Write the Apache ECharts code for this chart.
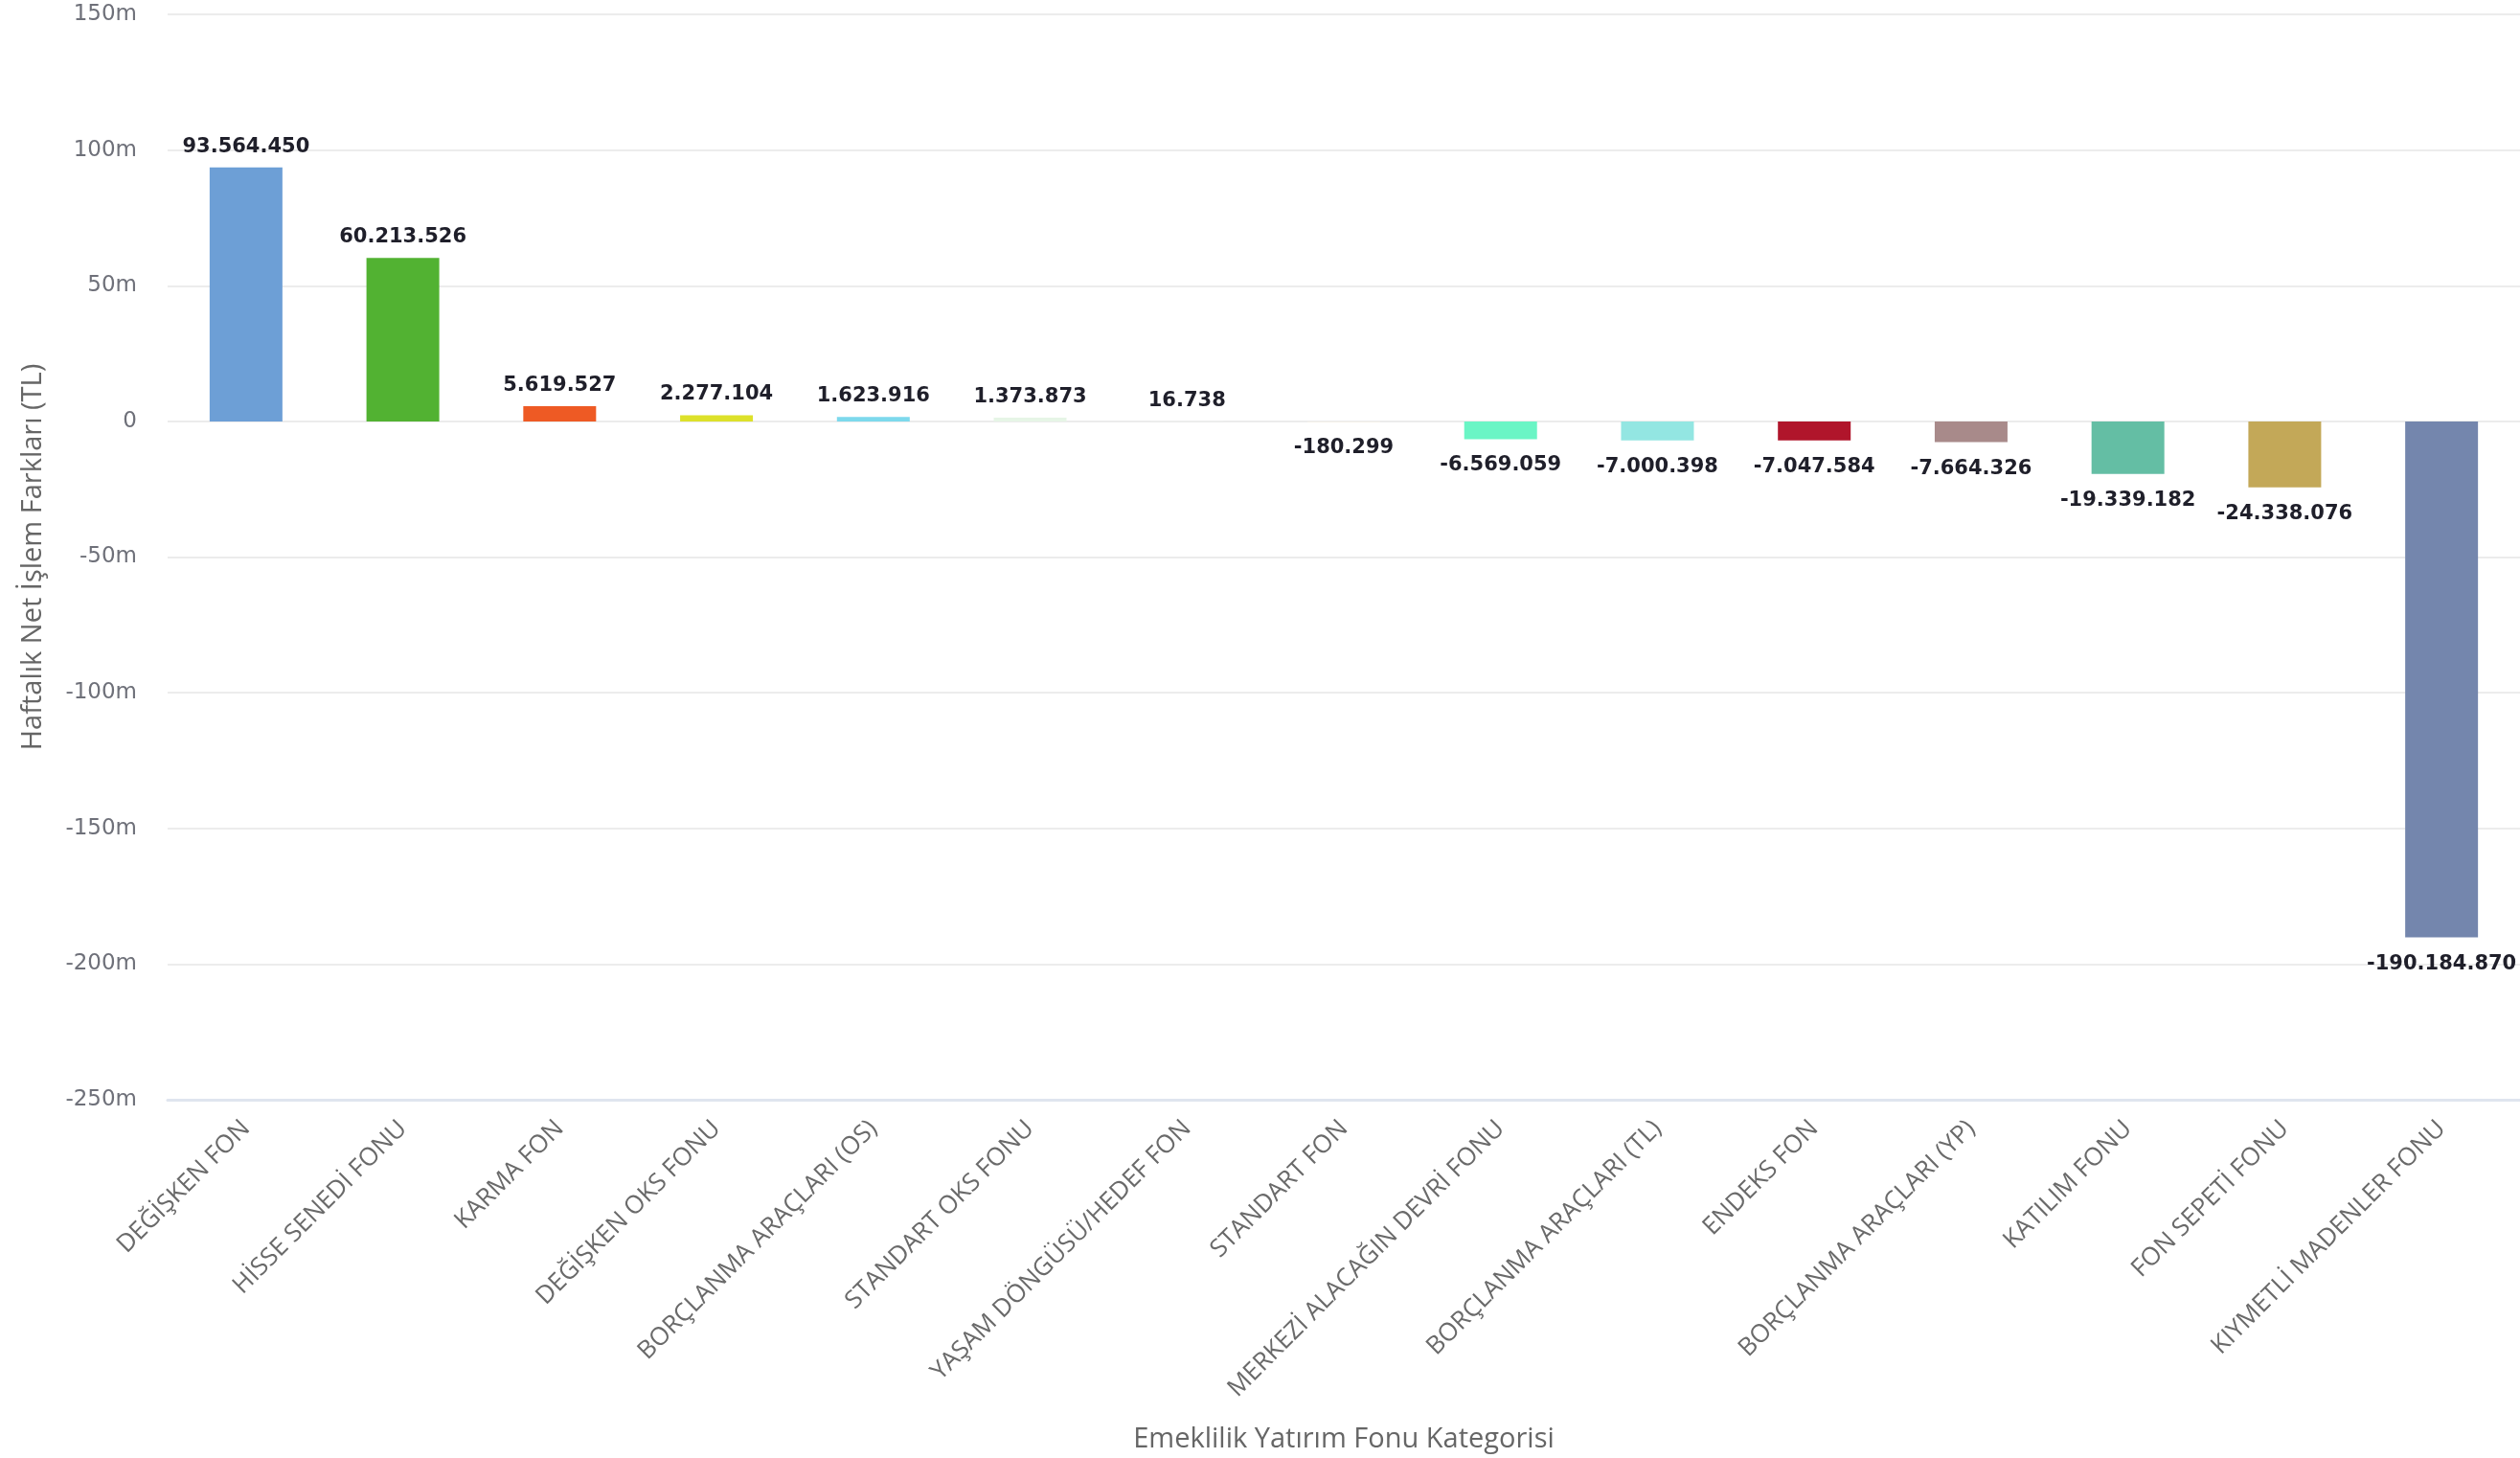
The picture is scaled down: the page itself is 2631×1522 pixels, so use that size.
<!DOCTYPE html>
<html>
<head>
<meta charset="utf-8">
<script src="https://cdn.jsdelivr.net/npm/echarts@6/dist/echarts.min.js"></script>
<style>
html,body{margin:0;padding:0;background:#fff;}
#chart{width:2631px;height:1522px;}
</style>
</head>
<body>
<div id="chart"></div>
<script>
var categories = [
  "DEĞİŞKEN FON",
  "HİSSE SENEDİ FONU",
  "KARMA FON",
  "DEĞİŞKEN OKS FONU",
  "BORÇLANMA ARAÇLARI (OS)",
  "STANDART OKS FONU",
  "YAŞAM DÖNGÜSÜ/HEDEF FON",
  "STANDART FON",
  "MERKEZİ ALACAĞIN DEVRİ FONU",
  "BORÇLANMA ARAÇLARI (TL)",
  "ENDEKS FON",
  "BORÇLANMA ARAÇLARI (YP)",
  "KATILIM FONU",
  "FON SEPETİ FONU",
  "KIYMETLİ MADENLER FONU"
];
var values = [
  93564450, 60213526, 5619527, 2277104, 1623916, 1373873, 16738,
  -180299, -6569059, -7000398, -7047584, -7664326, -19339182, -24338076, -190184870
];
var barColors = [
  "#6d9fd6", "#52b232", "#ee5a24", "#dde12a", "#7dd9ec", "#e6f5e6", "#eef4f0",
  "#fbf5e6", "#6af5c5", "#93e6e2", "#b0152b", "#a88a8a", "#64bea4", "#c3a858", "#7486ad"
];
var yTicks = { min: -250000000, max: 150000000, interval: 50000000 };

function fmtTR(v) {
  var neg = v < 0;
  var s = String(Math.abs(Math.round(v)));
  s = s.replace(/\B(?=(\d{3})+(?!\d))/g, ".");
  return (neg ? "-" : "") + s;
}

var seriesData = values.map(function (v, i) {
  return {
    value: v,
    itemStyle: { color: barColors[i] },
    label: v >= 0 ? { position: "top", distance: 11 } : { position: "bottom", distance: 17 }
  };
});

var chart = echarts.init(document.getElementById("chart"), null, { renderer: "canvas" });
chart.setOption({
  animation: false,
  backgroundColor: "#ffffff",
  grid: { left: 175, right: 0, top: 15, bottom: 372, containLabel: false },
  xAxis: {
    type: "category",
    data: categories,
    name: "Emeklilik Yatırım Fonu Kategorisi",
    nameLocation: "middle",
    nameGap: 340,
    nameTextStyle: { fontFamily: "Open Sans", fontSize: 29, color: "#666666" },
    axisLine: { onZero: false, lineStyle: { color: "#dfe5ef", width: 3 } },
    axisTick: { show: false },
    axisLabel: {
      rotate: 45,
      interval: 0,
      margin: 26,
      fontFamily: "Open Sans",
      fontSize: 26,
      color: "#6a6a6a"
    }
  },
  yAxis: {
    type: "value",
    min: yTicks.min,
    max: yTicks.max,
    interval: yTicks.interval,
    name: "Haftalık Net İşlem Farkları (TL)",
    nameLocation: "middle",
    nameGap: 126,
    nameRotate: 90,
    nameTextStyle: { fontFamily: "Open Sans", fontSize: 29, color: "#666666" },
    axisLine: { show: false },
    axisTick: { show: false },
    axisLabel: {
      margin: 32,
      fontFamily: "DejaVu Sans",
      fontSize: 23,
      color: "#6e7079",
      formatter: function (v) { return v === 0 ? "0" : (v / 1000000) + "m"; }
    },
    splitLine: { lineStyle: { color: "#ececec", width: 2 } }
  },
  series: [{
    type: "bar",
    data: seriesData,
    barWidth: 76,
    label: {
      show: true,
      fontFamily: "DejaVu Sans",
      fontWeight: "bold",
      fontSize: 21,
      color: "#1f1f2a",
      formatter: function (p) { return fmtTR(p.value); }
    }
  }]
});
</script>
</body>
</html>
